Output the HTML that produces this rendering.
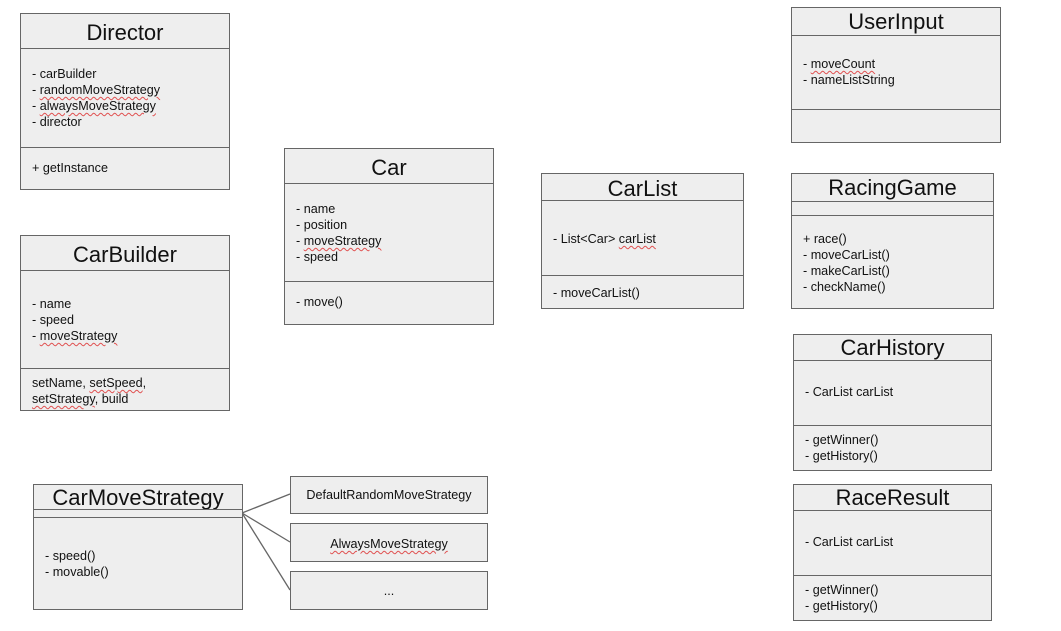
<!DOCTYPE html>
<html><head><meta charset="utf-8"><style>
body{margin:0;width:1061px;height:631px;background:#fff;position:relative;font-family:"Liberation Sans",Arial,sans-serif;overflow:hidden}
.b{position:absolute;background:#eeeeee;border:1.5px solid #666;box-sizing:border-box}
.h{position:absolute;left:0;right:0;border-top:1.5px solid #666}
.t{position:absolute;left:0;right:0;text-align:center;font-size:22px;color:#111}
.a{position:absolute;font-size:12.6px;line-height:16px;color:#111;white-space:nowrap}
.c{position:absolute;left:0;right:0;text-align:center;font-size:12.6px;color:#111}
u{text-decoration:underline wavy #e05050;text-decoration-thickness:1px;text-underline-offset:2px}
</style></head><body>
<svg style="position:absolute;left:0;top:0" width="1061" height="631"><g stroke="#666" stroke-width="1.3"><line x1="242" y1="513" x2="290" y2="494"/><line x1="242" y1="513" x2="290" y2="542"/><line x1="242" y1="513" x2="290" y2="590"/></g></svg>

<div class="b" style="left:20px;top:13px;width:210px;height:177px">
<div class="t" style="top:6px">Director</div><div class="h" style="top:34px"></div>
<div class="a" style="left:11px;top:52px">- carBuilder<br>- <u>randomMoveStrategy</u><br>- <u>alwaysMoveStrategy</u><br>- director</div>
<div class="h" style="top:133px"></div><div class="a" style="left:11px;top:146px">+ getInstance</div></div>

<div class="b" style="left:20px;top:235px;width:210px;height:176px">
<div class="t" style="top:6px">CarBuilder</div><div class="h" style="top:34px"></div>
<div class="a" style="left:11px;top:60px">- name<br>- speed<br>- <u>moveStrategy</u></div>
<div class="h" style="top:132px"></div><div class="a" style="left:11px;top:139px">setName, <u>setSpeed</u>,<br><u>setStrategy</u>, build</div></div>

<div class="b" style="left:284px;top:148px;width:210px;height:177px">
<div class="t" style="top:6px">Car</div><div class="h" style="top:34px"></div>
<div class="a" style="left:11px;top:52px">- name<br>- position<br>- <u>moveStrategy</u><br>- speed</div>
<div class="h" style="top:132px"></div><div class="a" style="left:11px;top:145px">- move()</div></div>

<div class="b" style="left:541px;top:173px;width:203px;height:136px">
<div class="t" style="top:2px">CarList</div><div class="h" style="top:26px"></div>
<div class="a" style="left:11px;top:57px">- List&lt;Car&gt; <u>carList</u></div>
<div class="h" style="top:101px"></div><div class="a" style="left:11px;top:111px">- moveCarList()</div></div>

<div class="b" style="left:791px;top:7px;width:210px;height:136px">
<div class="t" style="top:1px">UserInput</div><div class="h" style="top:27px"></div>
<div class="a" style="left:11px;top:48px">- <u>moveCount</u><br>- nameListString</div>
<div class="h" style="top:101px"></div></div>

<div class="b" style="left:791px;top:173px;width:203px;height:136px">
<div class="t" style="top:1px">RacingGame</div><div class="h" style="top:27px"></div><div class="h" style="top:41px"></div>
<div class="a" style="left:11px;top:57px">+ race()<br>- moveCarList()<br>- makeCarList()<br>- checkName()</div></div>

<div class="b" style="left:793px;top:334px;width:199px;height:137px">
<div class="t" style="top:0px">CarHistory</div><div class="h" style="top:25px"></div>
<div class="a" style="left:11px;top:49px">- CarList carList</div>
<div class="h" style="top:90px"></div><div class="a" style="left:11px;top:97px">- getWinner()<br>- getHistory()</div></div>

<div class="b" style="left:793px;top:484px;width:199px;height:137px">
<div class="t" style="top:0px">RaceResult</div><div class="h" style="top:25px"></div>
<div class="a" style="left:11px;top:49px">- CarList carList</div>
<div class="h" style="top:90px"></div><div class="a" style="left:11px;top:97px">- getWinner()<br>- getHistory()</div></div>

<div class="b" style="left:33px;top:484px;width:210px;height:126px">
<div class="t" style="top:0px">CarMoveStrategy</div><div class="h" style="top:24px"></div><div class="h" style="top:32px"></div>
<div class="a" style="left:11px;top:63px">- speed()<br>- movable()</div></div>

<div class="b" style="left:290px;top:476px;width:198px;height:38px"><div class="c" style="top:11px">DefaultRandomMoveStrategy</div></div>
<div class="b" style="left:290px;top:523px;width:198px;height:39px"><div class="c" style="top:13px"><u>AlwaysMoveStrategy</u></div></div>
<div class="b" style="left:290px;top:571px;width:198px;height:39px"><div class="c" style="top:12px">...</div></div>
</body></html>
